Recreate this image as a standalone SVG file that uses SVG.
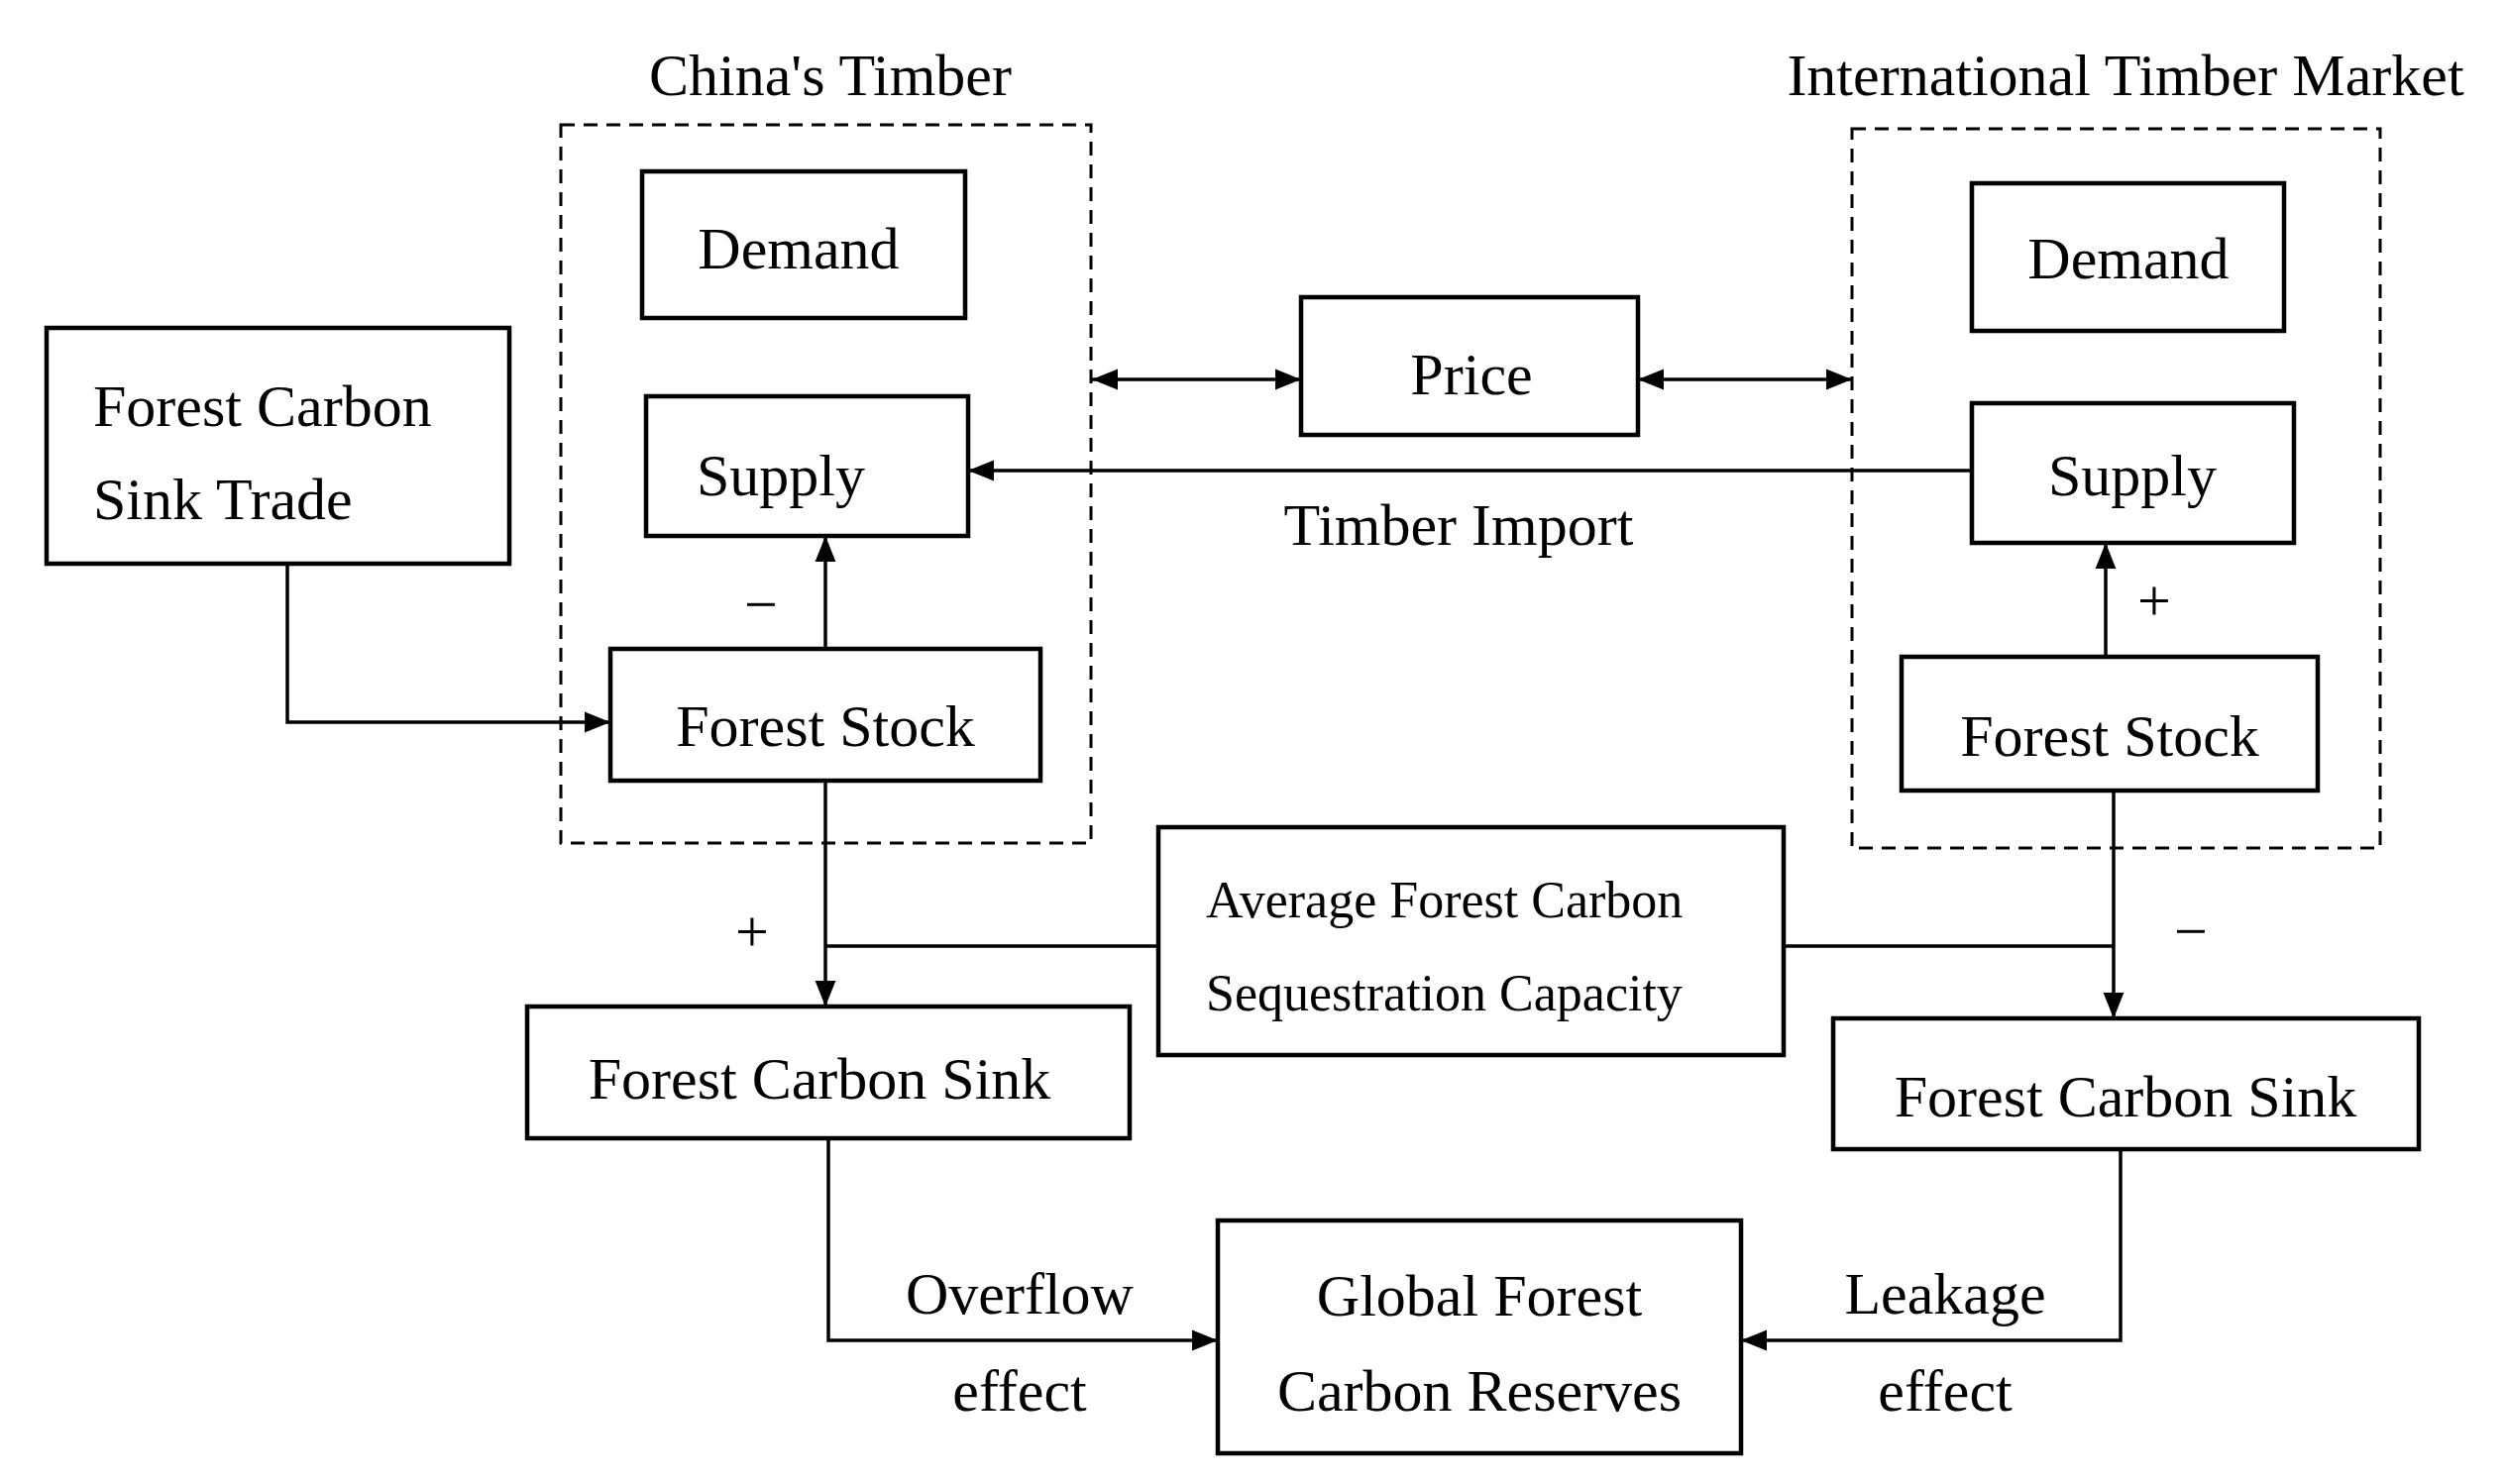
<svg xmlns="http://www.w3.org/2000/svg" width="2529" height="1498" viewBox="0 0 2529 1498">
<style>
.b{fill:#fff;stroke:#000;stroke-width:4.5}
.d{fill:none;stroke:#000;stroke-width:3;stroke-dasharray:14 9}
.t{font-family:"Liberation Serif",serif;font-size:60px;fill:#000}
.s{font-family:"Liberation Serif",serif;font-size:52px;fill:#000}
.c{text-anchor:middle}
.l{fill:none;stroke:#000;stroke-width:3.5}
</style>
<defs>
<marker id="a" viewBox="0 0 10 10" refX="10" refY="5" markerWidth="7" markerHeight="7" orient="auto-start-reverse" markerUnits="userSpaceOnUse" style="overflow:visible"><path d="M0,0L10,5L0,10z"/></marker>
<marker id="m" viewBox="0 0 10 10" refX="10" refY="5" markerWidth="26" markerHeight="26" orient="auto-start-reverse" markerUnits="userSpaceOnUse"><path d="M0,1L10,5L0,9z"/></marker>
</defs>
<rect width="2529" height="1498" fill="#fff"/>
<g id="china-group">
<rect class="d" x="566" y="126" width="535" height="725"/>
<text class="t c" x="838" y="96">China's Timber</text>
</g>
<g id="intl-group">
<rect class="d" x="1869" y="130" width="533" height="726"/>
<text class="t c" x="2145" y="96">International Timber Market</text>
</g>
<g id="connectors">
<path class="l" d="M1102,383H1313" marker-start="url(#m)" marker-end="url(#m)"/>
<path class="l" d="M1653,383H1869" marker-start="url(#m)" marker-end="url(#m)"/>
<path class="l" d="M1990,475H977" marker-end="url(#m)"/>
<path class="l" d="M833,655V541" marker-end="url(#m)"/>
<path class="l" d="M290,569V729H616" marker-end="url(#m)"/>
<path class="l" d="M2125,663V548" marker-end="url(#m)"/>
<path class="l" d="M833,788V1016" marker-end="url(#m)"/>
<path class="l" d="M833,955H1169"/>
<path class="l" d="M2133,798V1028" marker-end="url(#m)"/>
<path class="l" d="M1800,955H2133"/>
<path class="l" d="M836,1149V1353H1229" marker-end="url(#m)"/>
<path class="l" d="M2140,1160V1353H1757" marker-end="url(#m)"/>
<text class="t c" x="1472" y="550">Timber Import</text>
<text class="t c" x="768" y="630">−</text>
<text class="t c" x="2174" y="626">+</text>
<text class="t c" x="759" y="960">+</text>
<text class="t c" x="2211" y="960">−</text>
<text class="t c" x="1029" y="1326">Overflow</text>
<text class="t c" x="1029" y="1424">effect</text>
<text class="t c" x="1963" y="1326">Leakage</text>
<text class="t c" x="1963" y="1424">effect</text>
</g>
<g id="demand-cn"><rect class="b" x="648" y="173" width="326" height="148"/><text class="t c" x="806" y="271">Demand</text></g>
<g id="supply-cn"><rect class="b" x="652" y="400" width="325" height="141"/><text class="t c" x="788" y="500">Supply</text></g>
<g id="fcst"><rect class="b" x="47" y="331" width="467" height="238"/><text class="t" x="94" y="430">Forest Carbon</text><text class="t" x="94" y="524">Sink Trade</text></g>
<g id="stock-cn"><rect class="b" x="616" y="655" width="434" height="133"/><text class="t c" x="833" y="753">Forest Stock</text></g>
<g id="price"><rect class="b" x="1313" y="300" width="340" height="139"/><text class="t c" x="1485" y="398">Price</text></g>
<g id="demand-in"><rect class="b" x="1990" y="185" width="315" height="149"/><text class="t c" x="2148" y="281">Demand</text></g>
<g id="supply-in"><rect class="b" x="1990" y="407" width="325" height="141"/><text class="t c" x="2152" y="500">Supply</text></g>
<g id="stock-in"><rect class="b" x="1919" y="663" width="420" height="135"/><text class="t c" x="2129" y="763">Forest Stock</text></g>
<g id="avg"><rect class="b" x="1169" y="835" width="631" height="230"/><text class="s" x="1217" y="926">Average Forest Carbon</text><text class="s" x="1217" y="1020">Sequestration Capacity</text></g>
<g id="sink-cn"><rect class="b" x="532" y="1016" width="608" height="133"/><text class="t c" x="827" y="1109">Forest Carbon Sink</text></g>
<g id="sink-in"><rect class="b" x="1850" y="1028" width="591" height="132"/><text class="t c" x="2145" y="1127">Forest Carbon Sink</text></g>
<g id="global"><rect class="b" x="1229" y="1232" width="528" height="235"/><text class="t c" x="1493" y="1328">Global Forest</text><text class="t c" x="1493" y="1424">Carbon Reserves</text></g>
</svg>
